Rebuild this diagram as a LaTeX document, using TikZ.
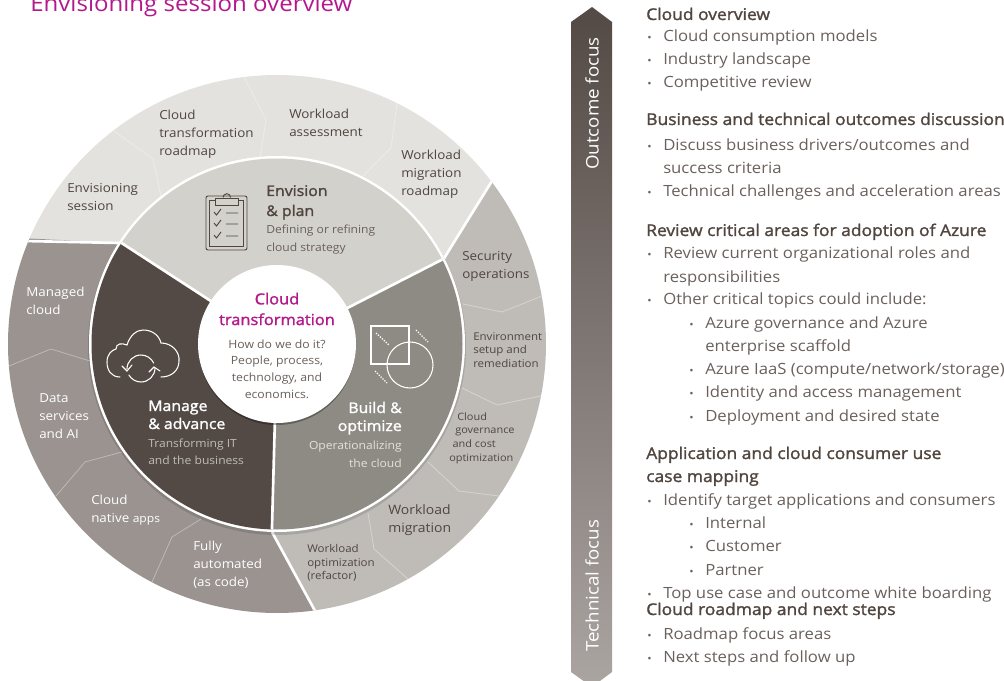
\documentclass[tikz,border=0pt]{standalone}
\usepackage{fontspec}
\setmainfont{Open Sans}[FakeStretch=1.08]
\newfontfamily\medfont{Open Sans}[FakeStretch=1.08,FakeBold=1.6]
\usepackage{xcolor}
\definecolor{brandpink}{HTML}{B4198C}
\definecolor{darktext}{HTML}{50453F}
\definecolor{softtext}{HTML}{6A605C}
\definecolor{ringlight}{HTML}{E3E2DF}
\definecolor{ringmid}{HTML}{BFBCB8}
\definecolor{ringdark}{HTML}{9A9390}
\definecolor{planfill}{HTML}{D3D1CB}
\definecolor{buildfill}{HTML}{8E8A84}
\definecolor{managefill}{HTML}{534945}
\definecolor{barbottom}{HTML}{ABA5A2}
\newcommand{\itm}{\makebox[12pt][l]{\fontsize{8}{8}\selectfont •}}
\tikzset{
ringtext/.style={anchor=west,align=left,inner sep=0,text=darktext,font=\fontsize{9.3}{13.5}\selectfont},
ringwhite/.style={ringtext,text=white},
ringsmall/.style={ringtext,font=\fontsize{8}{10.3}\selectfont},
sectorhead/.style={anchor=base west,inner sep=0,font=\fontsize{11}{14}\medfont},
sectorsub/.style={anchor=base west,inner sep=0,font=\fontsize{8.4}{13}\selectfont},
divider/.style={draw=white,line width=2pt},
thinline/.style={draw=white,opacity=.35,line width=.6pt},
listhead/.style={anchor=base west,inner sep=0,text=darktext,font=\fontsize{12.1}{14}\medfont},
listitem/.style={anchor=base west,inner sep=0,text=softtext,font=\fontsize{11.6}{14}\selectfont}
}
\begin{document}
\begin{tikzpicture}[x=.75pt,y=-.75pt,>=latex]
\useasboundingbox (0,0) rectangle (1004,681);

\node[anchor=base west,inner sep=0,text=brandpink,font=\fontsize{16.7}{20}\selectfont] (title) at (30,12) {Envisioning session overview};

%outer ring
\coordinate (c) at (277,344);
\begin{scope}
\clip (c) circle (269);
\fill[ringlight] (-40,235)--(120,243)--(443,260)--(560,70)--(300,-20)--(-40,-20)--cycle;
\fill[ringmid] (443,260)--(560,70)--(600,640)--(330,640)--(272,532)--cycle;
\fill[ringdark] (-40,235)--(120,243)--(272,532)--(330,640)--(-40,640)--cycle;
\draw[thinline] (114,131)--(153,159)--(161,196);
\draw[thinline] (244,77)--(266,120)--(260,157);
\draw[thinline] (397,103)--(391,148)--(363,176);
\draw[thinline] (542,296)--(502,312)--(463,304);
\draw[thinline] (541,396)--(497,405)--(462,388);
\draw[thinline] (499,496)--(459,491)--(428,462);
\draw[thinline] (408,579)--(374,549)--(368,513);
\draw[thinline] (152,582)--(172,537)--(201,519);
\draw[thinline] (56,496)--(85,462)--(122,452);
\draw[thinline] (9,366)--(51,349)--(90,361);
\draw[divider] (0,240.5)--(120,243);
\draw[divider] (500,168)--(443,260);
\draw[divider] (272,532)--(320,620);
\end{scope}

%inner ring
\fill[black,opacity=.12] (277,346) circle (189);
\fill[white] (c) circle (188);
\begin{scope}
\clip (c) circle (185.5);
\fill[planfill] (c)--(60,203)--(60,100)--(500,100)--(500,230)--cycle;
\fill[buildfill] (c)--(500,230)--(500,600)--(270,600)--cycle;
\fill[managefill] (c)--(270,600)--(60,600)--(60,203)--cycle;
\draw[divider] (c)--(60,203);
\draw[divider] (c)--(500,230);
\draw[divider] (c)--(270,600);
\end{scope}

%middle circle
\fill[black,opacity=.3] (277,346.5) circle (78.5);
\fill[white] (c) circle (79);

%clipboard
\begin{scope}[draw=darktext,line width=.7pt]
\draw[rounded corners=1.5] (206,196) rectangle (247,250);
\draw (209,200) rectangle (243.5,246.5);
\draw[fill=planfill] (215.5,198) rectangle (238,205.5);
\draw (223,197.5) arc (180:360:3.8);
\draw (214,212)--(216.5,215)--(221,209) (226,213)--(238,213);
\draw (214,223)--(216.5,226)--(221,220) (226,224)--(238,224);
\draw (214,235)--(216.5,238)--(221,232) (226,236)--(238,236);
\end{scope}

%cloud
\begin{scope}[draw=white,line width=.8pt,line cap=round]
\draw (120,377) .. controls (111,377) and (107,370) .. (107,362) .. controls (107,354) and (112,350) .. (116,349) .. controls (116,343) and (122,343) .. (127,345) .. controls (130,335) and (137,330) .. (143,330) .. controls (152,330) and (159,335) .. (161,343) .. controls (172,343) and (180,352) .. (179,361) .. controls (179,370) and (172,377) .. (161,377);
\draw (127,369) arc (180:335:14);
\draw (155,368) arc (0:150:14);
\draw (122,366)--(127,371)--(132,365);
\draw (149,372)--(154,367)--(160,371);
\end{scope}

%square and circle
\begin{scope}[draw=white,line width=.8pt]
\draw (371,326) rectangle (409,364);
\draw (410,365) circle (23);
\draw[densely dotted,line width=1pt] (376,333)--(389,345);
\draw[densely dotted,line width=1pt] (416,330)--(428,342);
\draw[densely dotted,line width=1pt] (375,371)--(387,383);
\end{scope}

%outer ring labels
\node[ringtext] (envisioning) at (67,197) {Envisioning\\session};
\node[ringtext] (roadmap) at (159,134) {Cloud\\transformation\\roadmap};
\node[ringtext] (assessment) at (289,123) {Workload\\assessment};
\node[ringtext] (migroadmap) at (401,174) {Workload\\migration\\roadmap};
\node[ringtext] (security) at (462,266) {Security\\operations};
\node[ringsmall] (environment) at (473,350) {Environment\\setup and\\remediation};
\node[ringsmall,font=\fontsize{7.6}{10.3}\selectfont] (governance) at (449,438) {\hspace*{6pt}Cloud\\\hspace*{4.5pt}governance\\\hspace*{2.5pt}and cost\\optimization};
\node[ringtext,font=\fontsize{9.7}{14}\selectfont] (migration) at (388,520) {Workload\\migration};
\node[ringsmall] (optimization) at (307,563) {Workload\\optimization\\(refactor)};
\node[ringwhite] (automated) at (193,565) {Fully\\automated\\(as code)};
\node[ringwhite] (native) at (91,510) {Cloud\\native {\fontsize{8.4}{13.5}\selectfont apps}};
\node[ringwhite] (data) at (39,416) {Data\\services\\and AI};
\node[ringwhite] (managed) at (26,301) {Managed\\cloud};

%inner ring labels
\node[sectorhead,text=darktext] (envision1) at (266,196) {Envision};
\node[sectorhead,text=darktext] (envision2) at (266,216) {\& plan};
\node[sectorsub,text=softtext] (envision3) at (266,234) {Defining or refining};
\node[sectorsub,text=softtext] (envision4) at (266,252) {cloud strategy};
\node[sectorhead,text=white] (manage1) at (148,411) {Manage};
\node[sectorhead,text=white] (manage2) at (148,429) {\& advance};
\node[sectorsub,text=ringmid] (manage3) at (148,447) {Transforming IT};
\node[sectorsub,text=ringmid] (manage4) at (148,464) {and the business};
\node[sectorhead,text=white,anchor=base east] (build1) at (402,413) {Build \&};
\node[sectorhead,text=white,anchor=base east] (build2) at (402,431) {optimize};
\node[sectorsub,text=ringlight,anchor=base east] (build3) at (402,449) {Operationalizing};
\node[sectorsub,text=ringlight,anchor=base east] (build4) at (402,467) {the cloud};

%middle circle labels
\node[align=center,inner sep=0,text=brandpink,font=\fontsize{11.4}{15.5}\medfont] (cloudhead) at (277,309) {Cloud\\transformation};
\node[align=center,inner sep=0,text=softtext,font=\fontsize{8.5}{12.4}\selectfont] (cloudsub) at (277,369) {How do we do it?\\People, process,\\technology, and\\economics.};

%focus bar
\shade[top color=managefill,bottom color=barbottom] (592,7)--(612,22)--(612,672)--(592,687)--(571,672)--(571,22)--cycle;
\node[rotate=90,anchor=west,inner sep=0,text=white,font=\fontsize{13}{14}\selectfont] (outcome) at (592,170) {Outcome focus};
\node[rotate=90,anchor=west,inner sep=0,text=white,font=\fontsize{13}{14}\selectfont] (technical) at (592,652) {Technical focus};

%list on the right
\node[listhead] (h1) at (646,20) {Cloud overview};
\node[listitem] (i1) at (647,42) {\itm Cloud consumption models};
\node[listitem] (i2) at (647,65) {\itm Industry landscape};
\node[listitem] (i3) at (647,88) {\itm Competitive review};

\node[listhead] (h2) at (646,125) {Business and technical outcomes discussion};
\node[listitem] (i4) at (647,151) {\itm Discuss business drivers/outcomes and};
\node[listitem] (i5) at (663,174) {success criteria};
\node[listitem] (i6) at (647,197) {\itm Technical challenges and acceleration areas};

\node[listhead] (h3) at (646,236) {Review critical areas for adoption of Azure};
\node[listitem] (i7) at (647,259) {\itm Review current organizational roles and};
\node[listitem] (i8) at (663,282) {responsibilities};
\node[listitem] (i9) at (647,305) {\itm Other critical topics could include:};
\node[listitem] (i10) at (689,328) {\itm Azure governance and Azure};
\node[listitem] (i11) at (705,351) {enterprise scaffold};
\node[listitem] (i12) at (689,374) {\itm Azure IaaS (compute/network/storage)};
\node[listitem] (i13) at (689,397) {\itm Identity and access management};
\node[listitem] (i14) at (689,421) {\itm Deployment and desired state};

\node[listhead] (h4) at (646,459) {Application and cloud consumer use};
\node[listhead] (h4b) at (646,482) {case mapping};
\node[listitem] (i15) at (647,505) {\itm Identify target applications and consumers};
\node[listitem] (i16) at (689,528) {\itm Internal};
\node[listitem] (i17) at (689,551) {\itm Customer};
\node[listitem] (i18) at (689,575) {\itm Partner};
\node[listitem] (i19) at (647,598) {\itm Top use case and outcome white boarding};
\node[listhead] (h5) at (646,615) {Cloud roadmap and next steps};
\node[listitem] (i20) at (647,639) {\itm Roadmap focus areas};
\node[listitem] (i21) at (647,662) {\itm Next steps and follow up};

\end{tikzpicture}
\end{document}
